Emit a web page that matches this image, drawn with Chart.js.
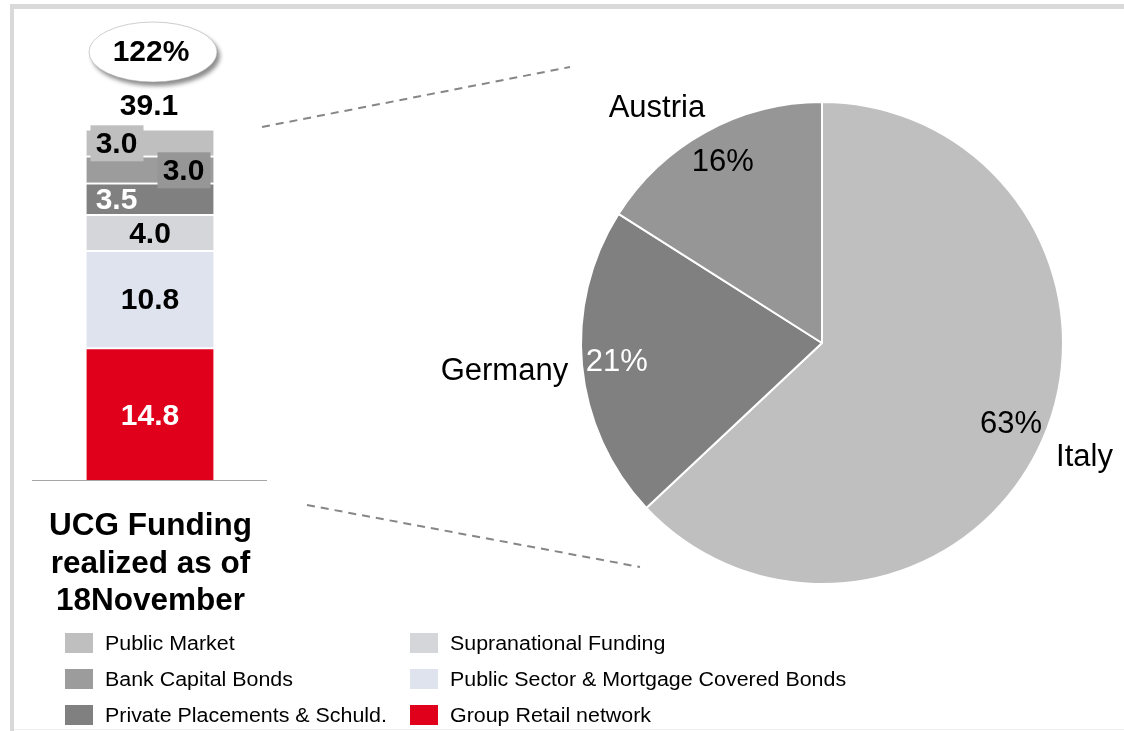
<!DOCTYPE html>
<html>
<head>
<meta charset="utf-8">
<script src="https://cdn.jsdelivr.net/npm/chart.js@4.4.1/dist/chart.umd.min.js"></script>
<style>
    body { margin: 0; background: #fff; font-family: "Liberation Sans", Arial, sans-serif; }
    #page { position: relative; width: 1124px; height: 731px; overflow: hidden; background: #fff; }
    #frameTop { position: absolute; left: 10px; top: 4px; width: 1114px; height: 5px; background: #d9d9d9; }
    #frameLeft { position: absolute; left: 10px; top: 4px; width: 4px; height: 727px; background: #d9d9d9; }
    #frameBottom { position: absolute; left: 14px; top: 729px; width: 1110px; height: 1px; background: #eeeeee; }
    #barChart { position: absolute; left: 0; top: 0; }
    #pieChart { position: absolute; left: 240px; top: 40px; }
    #titulo { position: absolute; left: 0; top: 506px; width: 301px; text-align: center; font-weight: bold; font-size: 31.5px; line-height: 37.5px; color: #000; }
    .leg { position: absolute; height: 20px; font-size: 20px; line-height: 20px; color: #000; white-space: nowrap; }
    .leg span { position: absolute; left: 0; top: 0; width: 28px; height: 20px; }
    .leg b { position: absolute; left: 40px; top: 0; font-weight: normal; transform: scaleX(1.07); transform-origin: 0 50%; }
</style>
</head>
<body>
<div id="page">
    <div id="frameTop"></div>
    <div id="frameLeft"></div>
    <div id="frameBottom"></div>
    <canvas id="barChart" width="300" height="481"></canvas>
    <canvas id="pieChart" width="884" height="600"></canvas>
    <div id="titulo">UCG Funding<br>realized as of<br>18November</div>
    <div id="legenda"></div>
</div>

<script>
// funding sources, stacked bottom -> top (bn)
var fontes = ["Group Retail network", "Public Sector & Mortgage Covered Bonds", "Supranational Funding",
              "Private Placements & Schuld.", "Bank Capital Bonds", "Public Market"];
var valores = [14.8, 10.8, 4.0, 3.5, 3.0, 3.0];
var coresFontes = ["#e0001b", "#dfe3ee", "#d5d6da", "#808080", "#9c9c9c", "#bfbfbf"];

// legend order (two columns of three)
var ordemLegenda = ["Public Market", "Bank Capital Bonds", "Private Placements & Schuld.",
                    "Supranational Funding", "Public Sector & Mortgage Covered Bonds", "Group Retail network"];

var objetivo = "122%";

// split of the realized funding by country
var paises = ["Italy", "Germany", "Austria"];
var percPaises = [63, 21, 16];
var coresPaises = ["#bfbfbf", "#808080", "#969696"];
var corPercPaises = ["#000", "#fff", "#000"];

// how each stack label is drawn
var estiloLabels = [
    { cor: "#fff", pos: "center" },
    { cor: "#000", pos: "center" },
    { cor: "#000", pos: "center" },
    { cor: "#fff", pos: "left" },
    { cor: "#000", pos: "right", caixa: "#969696" },
    { cor: "#000", pos: "left", caixa: "#bfbfbf" }
];

// dashed connectors between the bar and the pie (page coordinates)
var ligacoes = [[262, 127, 570, 67], [307, 505, 640, 567]];

var FONTE = '"Liberation Sans", Arial, sans-serif';

window.onload = function () {
    Chart.defaults.font.family = FONTE;
    loadLegenda();
    chartBarra();
    chartPie();
}

function loadLegenda() {
    let html = "";
    for (let i in ordemLegenda) {
        let idx = fontes.indexOf(ordemLegenda[i]);
        let col = Math.floor(i / 3);
        let row = i % 3;
        let left = col == 0 ? 65 : 410;
        let top = 633 + row * 36;
        html += "<div class='leg' style='left:" + left + "px; top:" + top + "px'>";
        html += "<span style='background:" + coresFontes[idx] + "'></span><b>" + ordemLegenda[i] + "</b>";
        html += "</div>";
    }
    document.getElementById("legenda").innerHTML = html;
}

var labelsBarra = {
    id: "labelsBarra",
    afterDatasetsDraw(chart) {
        let ctx = chart.ctx;
        let total = 0;
        let topo = null;
        ctx.save();
        ctx.font = "bold 30px " + FONTE;
        ctx.textBaseline = "middle";
        ctx.textAlign = "center";

        chart.data.datasets.forEach(function (ds, i) {
            let bar = chart.getDatasetMeta(i).data[0];
            let est = estiloLabels[i];
            let v = ds.data[0];
            total += v;
            let meiaLarg = bar.width / 2;
            let esq = bar.x - meiaLarg, dir = bar.x + meiaLarg;
            let cy = (bar.y + bar.base) / 2 + 1;
            let cx = bar.x;
            if (est.pos == "left") cx = esq + 30;
            if (est.pos == "right") cx = dir - 30;
            if (est.caixa) {
                ctx.fillStyle = est.caixa;
                ctx.fillRect(cx - 26, cy - 18, 53, 36);
            }
            ctx.fillStyle = est.cor;
            ctx.fillText(v.toFixed(1), cx, cy + 1);
            topo = bar;
        });

        // total on top of the stack
        ctx.fillStyle = "#000";
        ctx.fillText(total.toFixed(1), topo.x - 1, topo.y - 22);

        // target bubble
        let ex = topo.x + 3, ey = 52;
        ctx.save();
        ctx.shadowColor = "rgba(0,0,0,0.45)";
        ctx.shadowBlur = 4;
        ctx.shadowOffsetX = 3;
        ctx.shadowOffsetY = 4;
        ctx.beginPath();
        ctx.ellipse(ex, ey, 64, 30, 0, 0, Math.PI * 2);
        ctx.fillStyle = "#fff";
        ctx.fill();
        ctx.restore();
        ctx.beginPath();
        ctx.ellipse(ex, ey, 64, 30, 0, 0, Math.PI * 2);
        ctx.strokeStyle = "rgba(160,160,160,0.5)";
        ctx.lineWidth = 1;
        ctx.stroke();
        ctx.fillStyle = "#000";
        ctx.font = "bold 30px " + FONTE;
        ctx.fillText(objetivo, ex - 2, ey + 1);

        // base line
        let yb = chart.scales.y.getPixelForValue(0);
        ctx.strokeStyle = "#a6a6a6";
        ctx.lineWidth = 2;
        ctx.beginPath();
        ctx.moveTo(32, yb);
        ctx.lineTo(267, yb);
        ctx.stroke();
        ctx.restore();
    }
};

function chartBarra() {
    let datasets = [];
    for (let i in fontes) {
        datasets.push({
            label: fontes[i],
            data: [valores[i]],
            backgroundColor: coresFontes[i],
            borderColor: "#fff",
            borderWidth: { top: 2, left: 0, right: 0, bottom: 0 },
            borderSkipped: "start",
            barThickness: 127
        });
    }
    var ctx = document.getElementById("barChart").getContext("2d");
    var myChart = new Chart(ctx, {
        type: "bar",
        data: { labels: ["UCG"], datasets: datasets },
        options: {
            responsive: false,
            animation: false,
            layout: { padding: 0 },
            scales: {
                x: { display: false, stacked: true },
                y: { display: false, stacked: true, min: 0, max: 53.4 }
            },
            plugins: { legend: { display: false }, tooltip: { enabled: false } }
        },
        plugins: [labelsBarra]
    });
}

var labelsPie = {
    id: "labelsPie",
    afterDatasetsDraw(chart) {
        let ctx = chart.ctx;
        let arcs = chart.getDatasetMeta(0).data;
        let dados = chart.data.datasets[0].data;
        let total = dados.reduce(function (a, b) { return a + b; }, 0);
        ctx.save();
        ctx.font = "31px " + FONTE;

        arcs.forEach(function (arc, i) {
            let meio = (arc.startAngle + arc.endAngle) / 2;
            let ux = Math.cos(meio), uy = Math.sin(meio);
            let r = arc.outerRadius;

            // percentage inside the slice
            ctx.fillStyle = corPercPaises[i];
            ctx.textAlign = "center";
            ctx.textBaseline = "middle";
            ctx.fillText(Math.round(dados[i] / total * 100) + "%", arc.x + ux * r * 0.855, arc.y + uy * r * 0.855);

            // country name just outside
            let ax = arc.x + ux * (r + 14);
            let ay = arc.y + uy * (r + 14);
            ctx.fillStyle = "#000";
            ctx.textAlign = ux < 0 ? "right" : "left";
            if (uy < -0.3) { ctx.textBaseline = "alphabetic"; ax += 6; ay -= 3; }
            else if (uy > 0.3) { ctx.textBaseline = "top"; ay -= 2; }
            else { ctx.textBaseline = "middle"; ay += 4; }
            ctx.fillText(chart.data.labels[i], ax, ay);
        });

        // connectors
        let cv = chart.canvas;
        let ox = cv.offsetLeft, oy = cv.offsetTop;
        ctx.strokeStyle = "#868686";
        ctx.lineWidth = 2;
        ctx.setLineDash([8, 6]);
        for (let l of ligacoes) {
            ctx.beginPath();
            ctx.moveTo(l[0] - ox, l[1] - oy);
            ctx.lineTo(l[2] - ox, l[3] - oy);
            ctx.stroke();
        }
        ctx.restore();
    }
};

function chartPie() {
    var ctx = document.getElementById("pieChart").getContext("2d");
    var myChart = new Chart(ctx, {
        type: "pie",
        data: {
            labels: paises,
            datasets: [{
                data: percPaises,
                backgroundColor: coresPaises,
                borderColor: "#fff",
                borderWidth: 2
            }]
        },
        options: {
            responsive: false,
            animation: false,
            layout: { padding: { left: 340, right: 60, top: 61, bottom: 55 } },
            plugins: { legend: { display: false }, tooltip: { enabled: false } }
        },
        plugins: [labelsPie]
    });
}
</script>
</body>
</html>
